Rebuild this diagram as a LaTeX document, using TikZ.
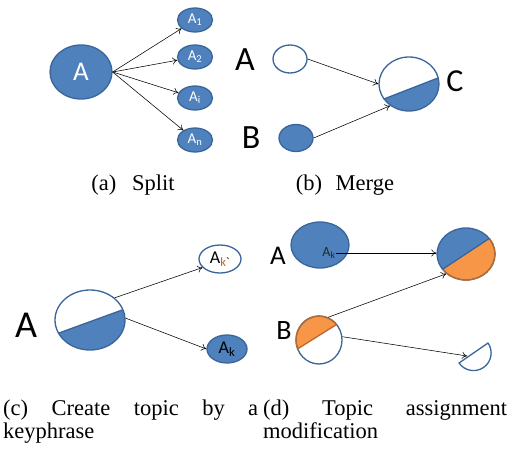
\documentclass[tikz,border=0pt]{standalone}
\usepackage{fontspec}
\setmainfont{Liberation Serif}
\newfontfamily\lblfont{Carlito}
\usetikzlibrary{shapes.geometric,arrows.meta,calc}
\definecolor{blueF}{HTML}{4F81BD}
\definecolor{blueD}{HTML}{3A659A}
\definecolor{orangeF}{HTML}{F79646}
\definecolor{orangeD}{HTML}{B8692F}
\tikzset{
  ell/.style={ellipse, inner sep=0pt, line width=1.3pt},
  bfill/.style={ell, fill=blueF, draw=blueD},
  wfill/.style={ell, fill=white, draw=blueD},
  arr/.style={-{To[length=5pt,width=7pt]}, line width=0.55pt, black},
  biglbl/.style={font=\lblfont\fontsize{#1}{#1}\selectfont, inner sep=0pt},
  captxt/.style={font=\fontsize{22.5}{23}\selectfont, inner sep=0pt},
}
\begin{document}
\begin{tikzpicture}[x=1pt,y=-1pt]
\useasboundingbox (0,0) rectangle (513,452);
% ---------- (a) Split
\node[bfill, minimum width=62pt, minimum height=54pt, text=white, biglbl=27] (A) at (81,72) {A};
\foreach \n/\y/\s in {A1/20/1, A2/57/2, Ai/98/i, An/140/n}{
  \node[bfill, minimum width=35pt, minimum height=24pt, text=white, biglbl=15] (\n) at (195,\y) {A\textsubscript{\s}};
  \draw[arr] (A.east) -- (\n);
}
\node[captxt, anchor=base] (capa) at (133,190) {(a)\hspace{0.7em}Split};
% ---------- (b) Merge
\node[biglbl=34] (lA) at (245,60) {A};
\node[wfill, minimum width=34pt, minimum height=28pt] (bA) at (290,59) {};
\node[biglbl=34] (lB) at (251,138) {B};
\node[bfill, minimum width=34pt, minimum height=27pt] (bB) at (296,138) {};
\node[wfill, minimum width=60pt, minimum height=54pt,
  path picture={
    \fill[blueF] ($(path picture bounding box.center)+(-40,20.8)$) -- ($(path picture bounding box.center)+(40,-10.3)$) -- ($(path picture bounding box.center)+(40,40)$) -- ($(path picture bounding box.center)+(-40,40)$) -- cycle;
    \draw[blueD, line width=1.3pt] ($(path picture bounding box.center)+(-40,20.8)$) -- ($(path picture bounding box.center)+(40,-10.3)$);
  }] (bC) at (409,84) {};
\node[biglbl=32] (lC) at (455,81) {C};
\draw[arr] (bA.east) -- (bC.west);
\draw[arr] (bB.east) -- (bC.229);
\node[captxt, anchor=base] (capb) at (345,190) {(b)\hspace{0.6em}Merge};
% ---------- (c) Create topic by a keyphrase
\node[biglbl=38] (lcA) at (26,325) {A};
\node[wfill, minimum width=70pt, minimum height=60pt,
  path picture={
    \fill[blueF] ($(path picture bounding box.center)+(-45,18.1)$) -- ($(path picture bounding box.center)+(45,-14.7)$) -- ($(path picture bounding box.center)+(45,45)$) -- ($(path picture bounding box.center)+(-45,45)$) -- cycle;
    \draw[blueD, line width=1.3pt] ($(path picture bounding box.center)+(-45,18.1)$) -- ($(path picture bounding box.center)+(45,-14.7)$);
  }] (cA) at (90,320) {};
\node[wfill, minimum width=42pt, minimum height=28pt, biglbl=18] (cAk2) at (220,259) {A\textsubscript{\textcolor{orangeD}{k}`}};
\node[bfill, minimum width=40pt, minimum height=28pt, biglbl=18] (cAk) at (227,349) {A\textsubscript{k}};
\draw[arr] (cA.42.6) -- (cAk2.206);
\draw[arr] (cA.3.4) -- (cAk.west);
\node[captxt, text width=255pt, align=justify, anchor=north west] (capc) at (3,400)
  {(c) Create topic by a \mbox{keyphrase}};
% ---------- (d) Topic assignment modification
\node[biglbl=27] (ldA) at (278,256) {A};
\node[bfill, minimum width=58pt, minimum height=46pt] (dA) at (320,245) {};
\node[biglbl=14, text=black!85] (dAk) at (329,253) {A\textsubscript{k}};
\node[ell, fill=orangeF, draw=blueD, minimum width=58pt, minimum height=52pt,
  path picture={
    \fill[blueF] ($(path picture bounding box.center)+(-40,26.2)$) -- ($(path picture bounding box.center)+(40,-26.6)$) -- ($(path picture bounding box.center)+(40,-40)$) -- ($(path picture bounding box.center)+(-40,-40)$) -- cycle;
  }] (dR) at (466,254) {};
\begin{scope}
  \clip ($(dR.center)+(-40,26.2)$) -- ($(dR.center)+(40,-26.6)$) -- ($(dR.center)+(40,40)$) -- ($(dR.center)+(-40,40)$) -- cycle;
  \draw[orangeD, line width=1.3pt] (dR.center) ellipse [x radius=29pt, y radius=26pt];
\end{scope}
\begin{scope}
  \clip (dR.center) ellipse [x radius=29pt, y radius=26pt];
  \draw[blueD, line width=1.3pt] ($(dR.center)+(-40,26.2)$) -- ($(dR.center)+(40,-26.6)$);
\end{scope}
\node[biglbl=28] (ldB) at (284,331) {B};
\node[ell, fill=white, draw=blueD, minimum width=46pt, minimum height=48pt,
  path picture={
    \fill[orangeF] ($(path picture bounding box.center)+(-30,14.25)$) -- ($(path picture bounding box.center)+(30,-23.25)$) -- ($(path picture bounding box.center)+(30,-40)$) -- ($(path picture bounding box.center)+(-30,-40)$) -- cycle;
  }] (dB) at (319,340) {};
\begin{scope}
  \clip ($(dB.center)+(-30,14.25)$) -- ($(dB.center)+(30,-23.25)$) -- ($(dB.center)+(30,-40)$) -- ($(dB.center)+(-30,-40)$) -- cycle;
  \draw[orangeD, line width=1.3pt] (dB.center) ellipse [x radius=23pt, y radius=24pt];
\end{scope}
\begin{scope}
  \clip (dB.center) ellipse [x radius=23pt, y radius=24pt];
  \draw[orangeD, line width=1.3pt] ($(dB.center)+(-30,14.25)$) -- ($(dB.center)+(30,-23.25)$);
\end{scope}
% half circle
\draw[blueD, line width=1.3pt, fill=white, line join=round]
  (488,343) arc[start angle=34.6, end angle=-145.4, radius=17.6pt] -- cycle;
\coordinate (dH) at (467,356);
\draw[arr] (dAk.east) -- (dAk.east -| dR.west);
\draw[arr] (dB.68.6) -- (dR.225);
\draw[arr] (dB.8) -- (dH);
\node[captxt, text width=244pt, align=justify, anchor=north west] (capd) at (263,400)
  {(d) Topic assignment \mbox{modification}};
\end{tikzpicture}
\end{document}
